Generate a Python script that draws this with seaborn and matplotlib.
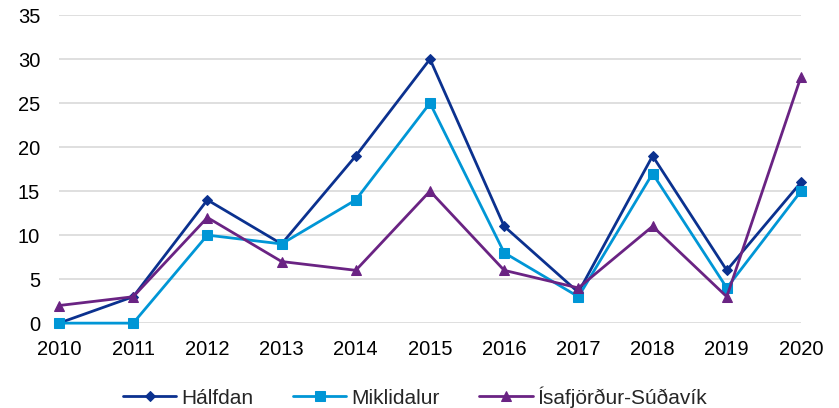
import pandas as pd
import seaborn as sns
import matplotlib.pyplot as plt

# data
years = [2010, 2011, 2012, 2013, 2014, 2015, 2016, 2017, 2018, 2019, 2020]
halfdan = [0, 3, 14, 9, 19, 30, 11, 3.5, 19, 6, 16]
miklidalur = [0, 0, 10, 9, 14, 25, 8, 3, 17, 4, 15]
isafjordur = [2, 3, 12, 7, 6, 15, 6, 4, 11, 3, 28]
series_names = ["Hálfdan", "Miklidalur", "Ísafjörður-Súðavík"]

colors = ["#0B318F", "#0096D6", "#6A2383"]
markers = ["D", "s", "^"]
msizes = [5, 7, 7]

sns.set_style("white")
plt.rcParams['font.family'] = ['Liberation Sans', 'DejaVu Sans']

fig = plt.figure(figsize=(8.39, 4.08), dpi=100)
ax = fig.add_axes([0.0703, 0.208, 0.8844, 0.755])

for name, vals, c, m, ms in zip(series_names, [halfdan, miklidalur, isafjordur], colors, markers, msizes):
    df = pd.DataFrame({"year": years, "value": vals})
    sns.lineplot(data=df, x="year", y="value", ax=ax, color=c, marker=m,
                 markersize=ms, markeredgecolor=c, linewidth=2, label=name,
                 clip_on=False)

ax.set_xlim(2010, 2020)
ax.set_ylim(0, 35)
ax.set_xticks(years)
ax.set_yticks(range(0, 36, 5))
ax.tick_params(axis="both", labelsize=14.5, length=0, colors="black")
ax.tick_params(axis="x", pad=12.5)
ax.tick_params(axis="y", pad=13.5)
ax.grid(axis="y", color="#D9D9D9", linewidth=1.2)
ax.set_axisbelow(True)
for s in ax.spines.values():
    s.set_visible(False)
ax.set_xlabel("")
ax.set_ylabel("")

# legend below the plot, centred on the figure
handles, labels = ax.get_legend_handles_labels()
ax.get_legend().remove()
fig.legend(handles, labels, loc="center", bbox_to_anchor=(0.495, 0.027), ncol=3,
           frameon=False, fontsize=15, handlelength=2.55, columnspacing=1.9,
           handletextpad=0.25, borderpad=0)

fig.savefig("out.png", dpi=100)
